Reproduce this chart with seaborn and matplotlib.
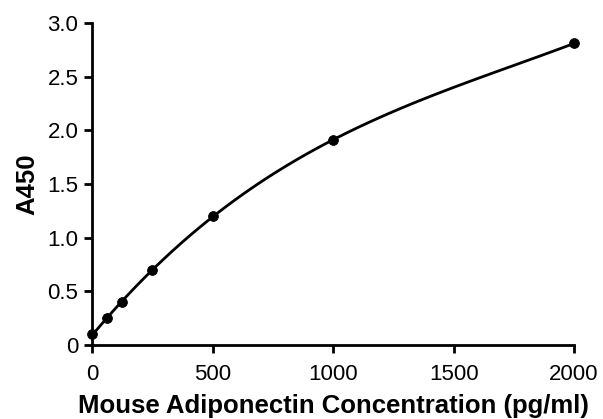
import numpy as np
import pandas as pd
import matplotlib
matplotlib.use("Agg")
import matplotlib.pyplot as plt
import seaborn as sns

# Standard curve points: concentration (pg/ml) vs absorbance at 450 nm
concentration = [0, 62.5, 125, 250, 500, 1000, 2000]
a450 = [0.10, 0.25, 0.40, 0.70, 1.20, 1.91, 2.81]

x_ticks = [0, 500, 1000, 1500, 2000]
y_ticks = [0, 0.5, 1.0, 1.5, 2.0, 2.5, 3.0]
y_tick_labels = ["0", "0.5", "1.0", "1.5", "2.0", "2.5", "3.0"]

df = pd.DataFrame({"conc": concentration, "a450": a450})

sns.set_style("ticks")
plt.rcParams["font.family"] = ["Liberation Sans", "DejaVu Sans"]

fig = plt.figure(figsize=(6.03, 4.19), dpi=100)
ax = fig.add_axes([0.153, 0.177, 0.799, 0.768])

# fitted standard curve (smooth fit through the points)
sns.regplot(data=df, x="conc", y="a450", order=3, ci=None, scatter=False,
            truncate=True, color="black", line_kws={"linewidth": 2.0}, ax=ax)
sns.scatterplot(data=df, x="conc", y="a450", color="black", s=50,
                edgecolor="black", zorder=5, clip_on=False, ax=ax)

ax.set_xlim(0, 2000)
ax.set_ylim(0, 3.0)
ax.set_xticks(x_ticks)
ax.set_yticks(y_ticks)
ax.set_yticklabels(y_tick_labels)

sns.despine(ax=ax)
for side in ["left", "bottom"]:
    ax.spines[side].set_linewidth(2.0)
    ax.spines[side].set_color("black")
ax.tick_params(axis="both", length=6, width=2.0, labelsize=16, color="black",
               labelcolor="black")
ax.tick_params(axis="x", pad=8)
ax.tick_params(axis="y", pad=4)

ax.set_xlabel("Mouse Adiponectin Concentration (pg/ml)", fontsize=18.5,
              fontweight="bold", color="black", labelpad=6)
ax.set_ylabel("A450", fontsize=18.5, fontweight="bold", color="black",
              labelpad=6)

fig.savefig("out.png", dpi=100)
